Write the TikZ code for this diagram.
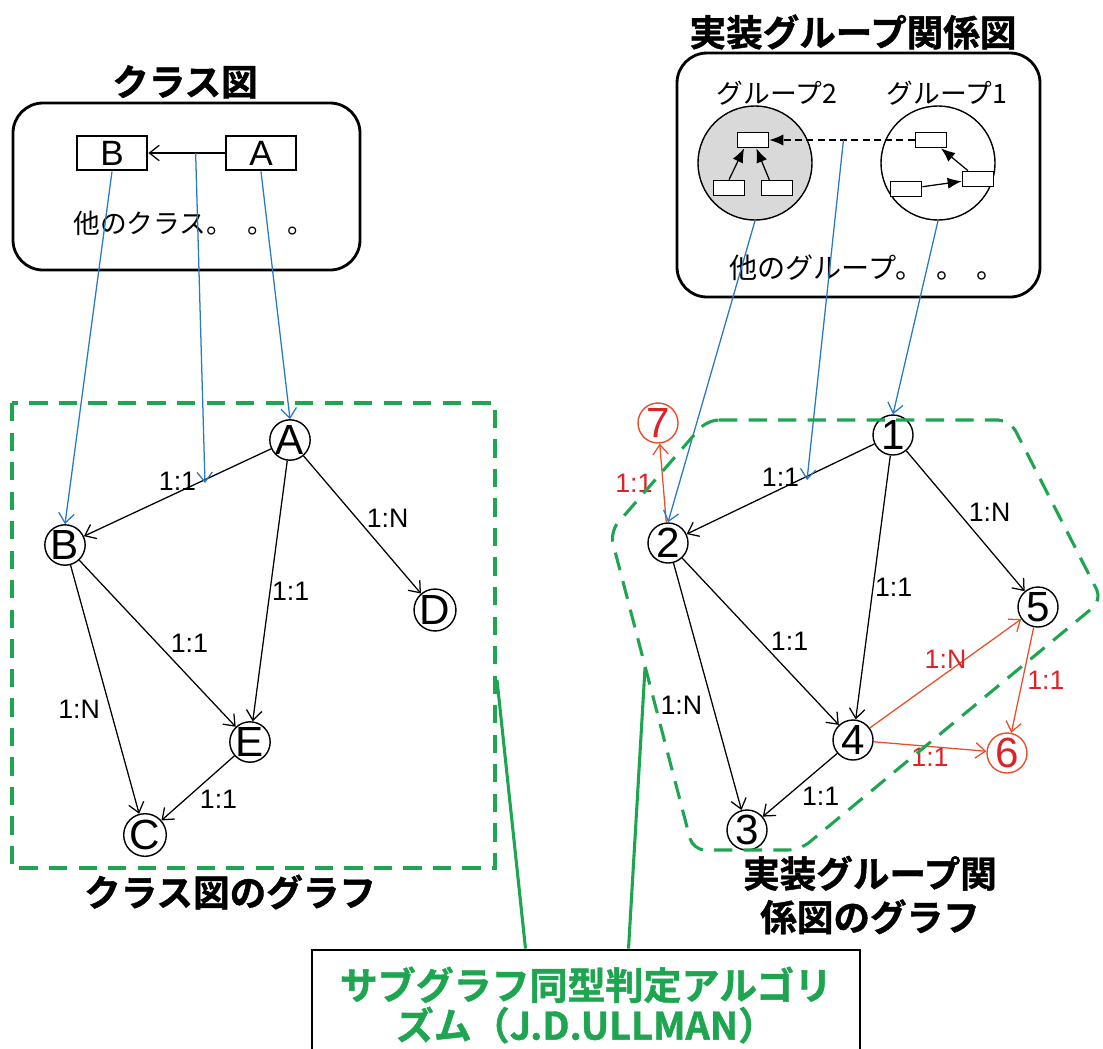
\documentclass[tikz,border=0pt]{standalone}
\usepackage{fontspec}
\setmainfont{Liberation Sans}
\newfontfamily\jp{Noto Sans CJK JP}[BoldFont={Noto Sans CJK JP Bold}, BoldFeatures={FakeBold=1.2}]
\usetikzlibrary{shapes,arrows.meta,automata}

\definecolor{linkblue}{RGB}{40,120,195}
\definecolor{matchgreen}{RGB}{30,165,80}
\definecolor{extrared}{RGB}{232,78,40}
\definecolor{labelred}{RGB}{220,35,40}
\definecolor{groupgray}{RGB}{217,217,217}

\begin{document}
\begin{tikzpicture}[->, >={Straight Barb[length=7pt,width=11pt]}, x=0.025cm, y=-0.025cm,
    font=\fontsize{18}{20}\selectfont]
  \tikzstyle{every state}=[circle, draw, line width=1pt, minimum size=1cm, inner sep=0pt,
    font=\fontsize{30}{30}\selectfont]
  \tikzstyle{extra state}=[state, draw=extrared, text=labelred]
  \tikzstyle{cls}=[draw, line width=2pt, minimum width=1.75cm, minimum height=0.85cm,
    inner sep=0pt, font=\fontsize{25}{25}\selectfont]
  \tikzstyle{member}=[draw, fill=white, line width=1pt, minimum width=0.78cm,
    minimum height=0.38cm, inner sep=0pt]
  \tikzstyle{group}=[circle, draw, line width=1pt, minimum size=2.85cm, inner sep=0pt]
  \tikzstyle{frame}=[-, draw, line width=2pt, rounded corners=0.75cm]
  \tikzstyle{title}=[font=\jp\bfseries\fontsize{26}{31}\selectfont]
  \tikzstyle{note}=[font=\jp\fontsize{19}{22}\selectfont]
  \tikzstyle{lbl}=[inner sep=1pt, font=\fontsize{19}{19}\selectfont]
  \tikzstyle{redlbl}=[lbl, text=labelred]
  \tikzstyle{rel}=[->, line width=0.9pt]
  \tikzstyle{extra}=[->, line width=0.9pt, draw=extrared]
  \tikzstyle{map}=[->, draw=linkblue, line width=0.9pt]
  \tikzstyle{dep}=[-{Latex[length=10pt,width=8pt]}, line width=0.9pt]
  \tikzstyle{area}=[-, draw=matchgreen, line width=2.2pt, dash pattern=on 13pt off 8pt]

  \useasboundingbox (0,0) rectangle (1103,1048);

  % class diagram
  \node[title] (clstitle) at (185,82) {クラス図};
  \draw[frame] (13,103) rectangle (360,270);
  \node[cls] (clsB) at (112,153) {B};
  \node[cls] (clsA) at (261,153) {A};
  \draw[line width=0.9pt] (clsA) -- coordinate[pos=0.38] (abmid) (clsB);
  \node[note] (clsother) at (194,223) {他のクラス。\hspace{10pt}。\hspace{10pt}。};

  % group diagram
  \node[title] (grptitle) at (853,32) {実装グループ関係図};
  \draw[frame] (677,53) rectangle (1040,297);
  \node[group, fill=groupgray] (g2) at (755,163) {};
  \node[group] (g1) at (938,163) {};
  \node[note] (g2name) at (777,93) {グループ2};
  \node[note] (g1name) at (947,93) {グループ1};
  \node[member] (g2top) at (753,140) {};
  \node[member] (g2left) at (729,188) {};
  \node[member] (g2right) at (777,188) {};
  \node[member] (g1top) at (931,140) {};
  \node[member] (g1right) at (978,179) {};
  \node[member] (g1left) at (906,189) {};
  \draw[dep] (g2left.north) -- (g2top.-137);
  \draw[dep] (g2right.133) -- (g2top.-68);
  \draw[dep] (g1left) -- (g1right);
  \draw[dep] (g1right) -- (g1top);
  \draw[dep, dash pattern=on 5pt off 3pt] (g1top) -- coordinate[pos=0.49] (dashmid) (g2top);
  \node[note, font=\jp\fontsize{20}{22}\selectfont] (grpother) at (867,268)
    {他のグループ。\hspace{9pt}。\hspace{9pt}。};

  % graph of the class diagram
  \node[state] (a) at (290,440) {A};
  \node[state] (b) at (65,545) {B};
  \node[state] (d) at (435,610) {D};
  \node[state] (e) at (250,742) {E};
  \node[state] (c) at (145,835) {C};
  \path[rel]
  (a) edge node[lbl, above] {1:1} (b)
  (a) edge node[lbl, pos=.45, right=6pt] {1:N} (d)
  (a) edge node[lbl, right] {1:1} (e)
  (b) edge node[lbl, right=8pt] {1:1} (e)
  (b) edge node[lbl, pos=.58, left=6pt] {1:N} (c)
  (e) edge node[lbl, below right=0pt] {1:1} (c);

  % graph of the group diagram
  \node[state] (n1) at (893,435) {1};
  \node[state] (n2) at (668,543) {2};
  \node[state] (n5) at (1038,607) {5};
  \node[state] (n4) at (853,740) {4};
  \node[state] (n3) at (747,830) {3};
  \node[extra state] (n6) at (1007,753) {6};
  \node[extra state] (n7) at (658,423) {7};
  \path[rel]
  (n1) edge node[lbl, above] {1:1} (n2)
  (n1) edge node[lbl, pos=.44, right=6pt] {1:N} (n5)
  (n1) edge node[lbl, right] {1:1} (n4)
  (n2) edge node[lbl, right=6pt] {1:1} (n4)
  (n2) edge node[lbl, pos=.575, left=6pt] {1:N} (n3)
  (n4) edge node[lbl, below right=0pt] {1:1} (n3);
  \path[extra]
  (n4) edge node[redlbl, above=2pt] {1:N} (n5)
  (n4) edge node[redlbl, below] {1:1} (n6)
  (n5) edge node[redlbl, right=2pt] {1:1} (n6)
  (n2) edge node[redlbl, left=6pt] {1:1} (n7);

  % mapping arrows
  \coordinate (abhit) at (205,483);
  \coordinate (dashhit) at (807,480);
  \draw[map] (clsB.south) -- (b.north);
  \draw[map] (abmid) -- (abhit);
  \draw[map] (clsA.south) -- (a.north);
  \draw[map] (g2.south) -- (n2.north);
  \draw[map] (dashmid) -- (dashhit);
  \draw[map] (g1.south) -- (n1.north);

  % graph areas and matching
  \draw[area] (12,403) rectangle (495,868);
  \draw[area, rounded corners=0.3cm] (707,420) -- (1010,420) -- (1102,600) -- (800,850)
    -- (693,850) -- (610,532) -- cycle;
  \node[title] (clsgraph) at (230,892) {クラス図のグラフ};
  \node[title, align=center] (grpgraph) at (870,895) {実装グループ関\\係図のグラフ};
  \node[draw, line width=2pt, minimum width=13.7cm, minimum height=2.75cm, align=center,
    text=matchgreen, font=\jp\bfseries\fontsize{27}{28.5}\selectfont] (ullman) at (586,1005)
    {サブグラフ同型判定アルゴリ\\ズム（J.D.ULLMAN）};
  \coordinate (clsedge) at (497,680);
  \coordinate (grpedge) at (645,668);
  \draw[-, matchgreen, line width=2.2pt] (clsedge) -- (ullman.137);
  \draw[-, matchgreen, line width=2.2pt] (grpedge) -- (ullman.53);
\end{tikzpicture}
\end{document}
